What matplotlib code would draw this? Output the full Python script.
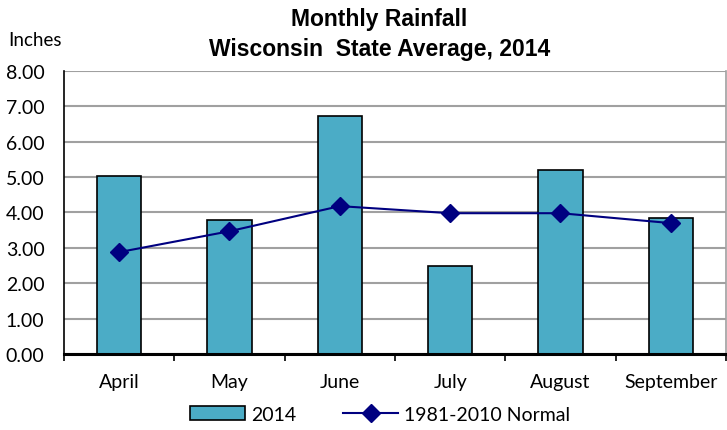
import matplotlib
matplotlib.use("Agg")
import matplotlib.pyplot as plt
import numpy as np

months = ["April", "May", "June", "July", "August", "September"]
rain_2014 = [5.03, 3.79, 6.72, 2.49, 5.20, 3.84]
normal = [2.88, 3.47, 4.18, 3.98, 3.98, 3.70]
yticks = [0, 1, 2, 3, 4, 5, 6, 7, 8]

label_font = ["Lato", "DejaVu Sans"]
title_font = ["Liberation Sans Narrow", "Liberation Sans", "DejaVu Sans"]

fig = plt.figure(figsize=(7.27, 4.31), dpi=100)
ax = fig.add_axes([0.0880, 0.1763, 0.9106, 0.6567])

x = np.arange(len(months))
bars = ax.bar(x, rain_2014, width=0.4, color="#4BACC6", edgecolor="black",
              linewidth=1.2, label="2014", zorder=2)
line, = ax.plot(x, normal, color="#000080", linewidth=1.5, marker="D", markersize=9,
                label="1981-2010 Normal", zorder=3)

ax.set_xlim(-0.5, len(months) - 0.5)
ax.set_ylim(0, 8)
ax.set_yticks(yticks)
ax.set_yticklabels([f"{v:.2f}" for v in yticks], family=label_font, fontsize=14)
ax.yaxis.grid(True, color="#a0a0a0", linewidth=1.5, zorder=0)
ax.set_axisbelow(True)
ax.tick_params(axis="y", length=0, pad=14)

ax.set_xticks(x)
ax.set_xticklabels(months, family=label_font, fontsize=14)
ax.set_xticks(np.arange(len(months) + 1) - 0.5, minor=True)
ax.tick_params(axis="x", which="major", length=0, pad=14)
ax.tick_params(axis="x", which="minor", length=5, width=1.2, direction="out")

ax.spines["top"].set_visible(False)
ax.spines["right"].set_color("#a0a0a0")
ax.spines["right"].set_linewidth(1.2)
ax.spines["left"].set_linewidth(1.2)
ax.spines["bottom"].set_linewidth(2.2)

fig.text(0.522, 0.955, "Monthly Rainfall", ha="center", va="center",
         family=title_font, fontweight="bold", fontsize=16.5)
fig.text(0.522, 0.885, "Wisconsin  State Average, 2014", ha="center", va="center",
         family=title_font, fontweight="bold", fontsize=16.5)
fig.text(0.012, 0.905, "Inches", ha="left", va="center",
         family=label_font, fontsize=13.5)

fig.legend([bars, line], ["2014", "1981-2010 Normal"], loc="center",
           bbox_to_anchor=(0.523, 0.037), ncol=2,
           frameon=False, prop={"family": label_font, "size": 14},
           handlelength=2.85, handleheight=0.7, columnspacing=2.4,
           handletextpad=0.3)

fig.savefig("out.png", dpi=100)
